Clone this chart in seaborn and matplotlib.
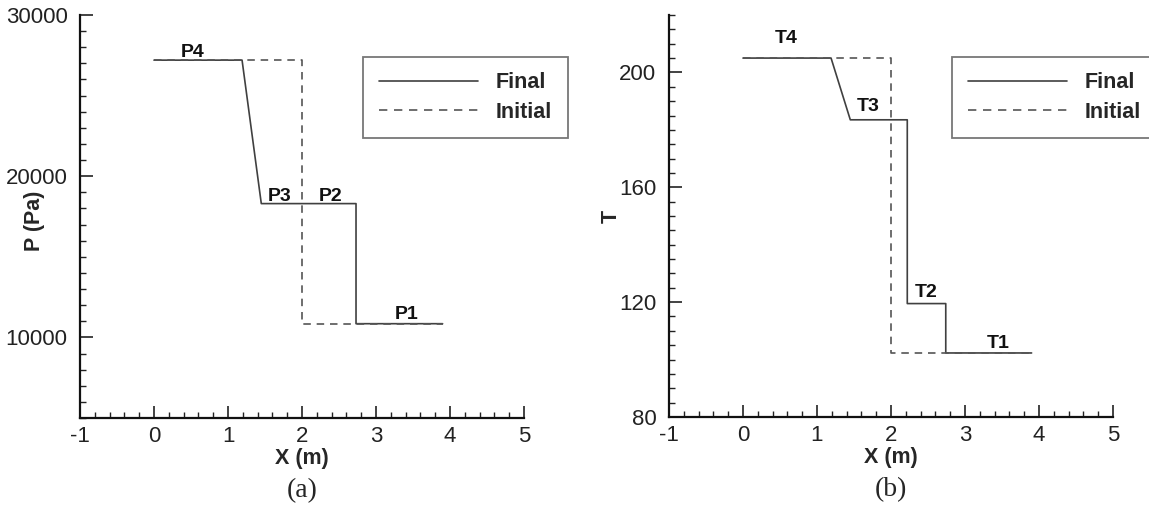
import matplotlib
matplotlib.use("Agg")
import matplotlib.pyplot as plt
from matplotlib.ticker import MultipleLocator
import pandas as pd
import seaborn as sns

# ---- data ----
# pressure, panel (a)
p_final_x = [0.0, 1.19, 1.45, 2.73, 2.73, 3.9]
p_final_y = [27200, 27200, 18300, 18300, 10850, 10850]
p_init_x = [0.0, 2.0, 2.0, 3.9]
p_init_y = [27200, 27200, 10850, 10850]
p_labels = ["P4", "P3", "P2", "P1"]
p_label_x = [0.52, 1.70, 2.38, 3.42]
p_label_y = [27650, 18750, 18750, 11400]

# temperature, panel (b)
t_final_x = [0.0, 1.19, 1.45, 2.22, 2.22, 2.74, 2.74, 3.9]
t_final_y = [205, 205, 183.5, 183.5, 119.5, 119.5, 102.3, 102.3]
t_init_x = [0.0, 2.0, 2.0, 3.9]
t_init_y = [205, 205, 102.3, 102.3]
t_labels = ["T4", "T3", "T2", "T1"]
t_label_x = [0.58, 1.69, 2.47, 3.45]
t_label_y = [211.7, 188.2, 123.2, 105.6]

sns.set_theme(style="ticks")
plt.rcParams["font.family"] = ["Liberation Sans", "DejaVu Sans"]
plt.rcParams["axes.unicode_minus"] = False

line_col = "#404040"


def make_df(fx, fy, ix, iy):
    a = pd.DataFrame({"x": fx, "y": fy, "case": "Final", "order": range(len(fx))})
    b = pd.DataFrame({"x": ix, "y": iy, "case": "Initial", "order": range(len(ix))})
    return pd.concat([a, b], ignore_index=True)


df_p = make_df(p_final_x, p_final_y, p_init_x, p_init_y)
df_t = make_df(t_final_x, t_final_y, t_init_x, t_init_y)

fig = plt.figure(figsize=(11.49, 5.08), dpi=100)
ax1 = fig.add_axes([80 / 1149, 90 / 508, 444 / 1149, 403 / 508])
ax2 = fig.add_axes([669 / 1149, 91 / 508, 444 / 1149, 402 / 508])


def draw(ax, df, labels, lx, ly, ylim, major, minor, ylabel, caption):
    sns.lineplot(data=df, x="x", y="y", hue="case", style="case",
                 palette={"Final": line_col, "Initial": "#555555"},
                 dashes={"Final": "", "Initial": (4.5, 3.5)},
                 sort=False, estimator=None, units="case",
                 linewidth=1.2, legend=False, ax=ax)
    for s, x, y in zip(labels, lx, ly):
        ax.text(x, y, s, ha="center", va="center", fontsize=14,
                fontweight="bold", color="#111111")
    ax.set_xlim(-1, 5)
    ax.set_ylim(*ylim)
    ax.xaxis.set_major_locator(MultipleLocator(1))
    ax.xaxis.set_minor_locator(MultipleLocator(0.2))
    ax.yaxis.set_major_locator(MultipleLocator(major))
    ax.yaxis.set_minor_locator(MultipleLocator(minor))
    ax.tick_params(which="major", direction="in", length=9, width=1.2,
                   labelsize=16, colors="#222222")
    ax.tick_params(axis="x", which="major", pad=6)
    ax.tick_params(axis="y", which="major", pad=9)
    ax.tick_params(which="minor", direction="in", length=4.5, width=1.0,
                   colors="#222222")
    sns.despine(ax=ax)
    for sp in ("left", "bottom"):
        ax.spines[sp].set_linewidth(1.6)
        ax.spines[sp].set_color("#111111")
    ax.set_xlabel("X (m)", fontsize=15.5, fontweight="bold")
    ax.set_ylabel(ylabel, fontsize=15.5, fontweight="bold")
    ax.xaxis.set_label_coords(0.5, -0.075)
    ax.text(0.5, -0.18, caption, transform=ax.transAxes, ha="center",
            va="center", fontsize=20, family=["Liberation Serif"])


draw(ax1, df_p, p_labels, p_label_x, p_label_y, (5000, 30000), 10000, 1000,
     "P (Pa)", "(a)")
draw(ax2, df_t, t_labels, t_label_x, t_label_y, (80, 220), 40, 5,
     "T", "(b)")
# the P label sits over the 20000 tick label in the original
ax1.yaxis.set_label_coords(-0.078, 0.49)
ax2.yaxis.set_label_coords(-0.106, 0.50)

# legends in figure coordinates (they run past the axes, like the original)
handles = [plt.Line2D([], [], color=line_col, lw=1.2),
           plt.Line2D([], [], color="#555555", lw=1.2, dashes=(5, 4))]
for left in (363, 952):
    leg = fig.legend(handles, ["Final", "Initial"], loc="upper left",
                     bbox_to_anchor=(left / 1149, 1 - 57 / 508),
                     borderaxespad=0, frameon=True, fancybox=False,
                     handlelength=4.6, handletextpad=0.85, borderpad=0.72,
                     labelspacing=0.38,
                     prop={"size": 15.5, "weight": "bold"})
    leg.get_frame().set_edgecolor("#555555")
    leg.get_frame().set_linewidth(1.3)

fig.savefig("out.png", dpi=100)
